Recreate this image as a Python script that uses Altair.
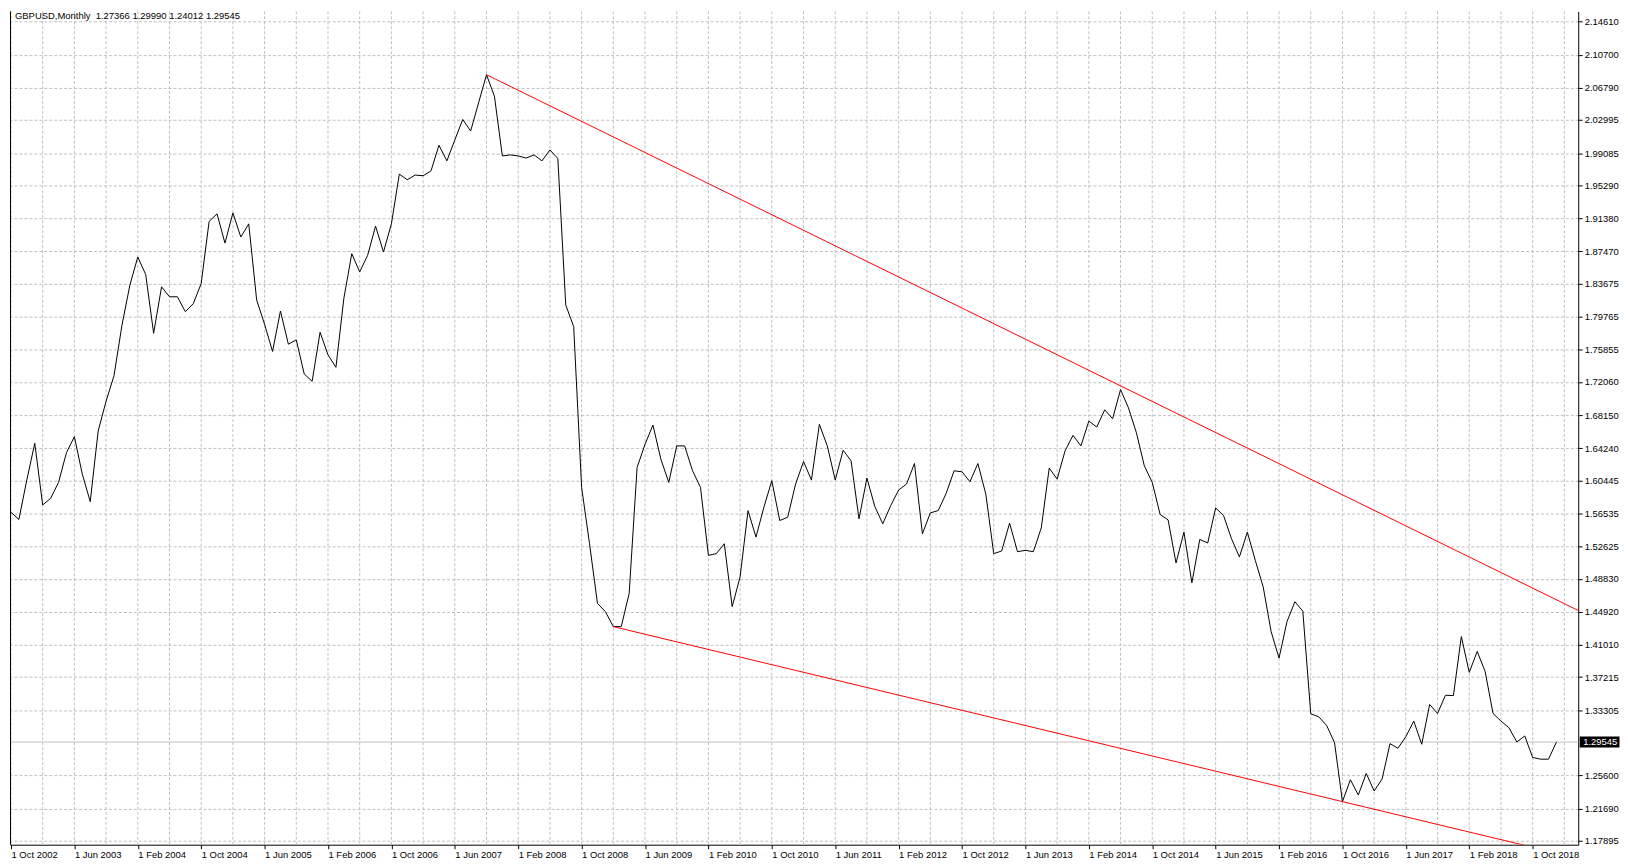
import json
import altair as alt
import pandas as pd

# ---------------- data ----------------
start_month = "2002-10-01"
closes = [
    # 2002 Oct-Dec
    1.5668, 1.5582, 1.6050,
    # 2003
    1.6482, 1.5754, 1.5832, 1.6020, 1.6372, 1.6560, 1.6118, 1.5793, 1.6627, 1.6979, 1.7280, 1.7874,
    # 2004
    1.8349, 1.8682, 1.8474, 1.7781, 1.8329, 1.8212, 1.8212, 1.8036, 1.8130, 1.8369, 1.9101, 1.9191,
    # 2005
    1.8846, 1.9202, 1.8917, 1.9073, 1.8173, 1.7887, 1.7566, 1.8044, 1.7652, 1.7703, 1.7300, 1.7214,
    # 2006
    1.7793, 1.7527, 1.7379, 1.8193, 1.8721, 1.8506, 1.8701, 1.9046, 1.8740, 1.9073, 1.9660, 1.9594,
    # 2007
    1.9649, 1.9641, 1.9699, 2.0001, 1.9817, 2.0063, 2.0306, 2.0169, 2.0502, 2.0834, 2.0580, 1.9875,
    # 2008
    1.9887, 1.9875, 1.9850, 1.9887, 1.9817, 1.9946, 1.9844, 1.8114, 1.7860, 1.5961, 1.5296, 1.4592,
    # 2009
    1.4494, 1.4317, 1.4317, 1.4709, 1.6196, 1.6470, 1.6697, 1.6294, 1.6020, 1.6451, 1.6451, 1.6157,
    # 2010
    1.5961, 1.5159, 1.5179, 1.5296, 1.4553, 1.4905, 1.5687, 1.5374, 1.5727, 1.6040, 1.5570, 1.5609,
    # 2011
    1.6000, 1.6267, 1.6048, 1.6705, 1.6451, 1.6048, 1.6400, 1.6275, 1.5590, 1.6071, 1.5734, 1.5531,
    # 2012
    1.5746, 1.5930, 1.6001, 1.6243, 1.5414, 1.5660, 1.5688, 1.5891, 1.6157, 1.6145, 1.6028, 1.6243,
    # 2013
    1.5883, 1.5179, 1.5210, 1.5539, 1.5202, 1.5218, 1.5202, 1.5484, 1.6189, 1.6059, 1.6392, 1.6576,
    # 2014
    1.6451, 1.6744, 1.6674, 1.6877, 1.6772, 1.7116, 1.6901, 1.6607, 1.6216, 1.6020, 1.5641, 1.5578,
    # 2015
    1.5069, 1.5433, 1.4834, 1.5347, 1.5304, 1.5719, 1.5629, 1.5355, 1.5140, 1.5433, 1.5100, 1.4787,
    # 2016
    1.4259, 1.3946, 1.4376, 1.4611, 1.4500, 1.3288, 1.3253, 1.3151, 1.2948, 1.2251, 1.2509, 1.2329,
    # 2017
    1.2584, 1.2376, 1.2517, 1.2936, 1.2881, 1.3018, 1.3202, 1.2928, 1.3398, 1.3292, 1.3507, 1.3503,
    # 2018
    1.4200, 1.3777, 1.4024, 1.3789, 1.3292, 1.3202, 1.3124, 1.2955, 1.3026, 1.2772, 1.2752, 1.2752,
    # 2019 Jan
    1.29545,
]

header_text = "GBPUSD,Monthly\u00a0 1.27366 1.29990 1.24012 1.29545"
last_price = 1.29545

y_ticks = [2.14610, 2.10700, 2.06790, 2.02995, 1.99085, 1.95290, 1.91380, 1.87470,
           1.83675, 1.79765, 1.75855, 1.72060, 1.68150, 1.64240, 1.60445, 1.56535,
           1.52625, 1.48830, 1.44920, 1.41010, 1.37215, 1.33305, 1.25600, 1.21690,
           1.17895]

x_tick_labels = ["1 Oct 2002", "1 Jun 2003", "1 Feb 2004", "1 Oct 2004", "1 Jun 2005",
                 "1 Feb 2006", "1 Oct 2006", "1 Jun 2007", "1 Feb 2008", "1 Oct 2008",
                 "1 Jun 2009", "1 Feb 2010", "1 Oct 2010", "1 Jun 2011", "1 Feb 2012",
                 "1 Oct 2012", "1 Jun 2013", "1 Feb 2014", "1 Oct 2014", "1 Jun 2015",
                 "1 Feb 2016", "1 Oct 2016", "1 Jun 2017", "1 Feb 2018", "1 Oct 2018"]
x_label_step = 8      # months between labelled ticks
x_grid_step = 4       # months between vertical grid lines

# trend lines: anchor bars (month index) and prices
upper_idx = [60, 140]
upper_val = [2.0834, 1.7160]
lower_idx = [76, 168]
lower_val = [1.4317, 1.2251]
trend_end_idx = 205

x_domain = [-0.125, 197.75]
y_domain = [1.17421, 2.15819]

W = 1577
H = 838

# ---------------- tables ----------------
n = len(closes)
months = pd.date_range(start_month, periods=n, freq="MS")
df = pd.DataFrame({"idx": list(range(n)), "close": closes,
                   "month": months.strftime("%b %Y")})


def extend(idx, val, end):
    slope = (val[1] - val[0]) / (idx[1] - idx[0])
    return [idx[0], end], [val[0], val[0] + slope * (end - idx[0])]


ui, uv = extend(upper_idx, upper_val, trend_end_idx)
li, lv = extend(lower_idx, lower_val, trend_end_idx)
trend = pd.DataFrame({"idx": ui + li, "val": uv + lv,
                      "line": ["upper", "upper", "lower", "lower"]})

grid_df = pd.DataFrame({"idx": list(range(0, int(x_domain[1]) + 1, x_grid_step))})
price_df = pd.DataFrame({"p": [last_price], "label": [f"{last_price:.5f}"]})
head_df = pd.DataFrame({"t": [header_text]})

FONT = "Liberation Sans"
FS = 9.5

xs = alt.Scale(domain=x_domain, nice=False, zero=False)
ys = alt.Scale(domain=y_domain, nice=False, zero=False)

label_expr = json.dumps(x_tick_labels) + f"[round(datum.value/{x_label_step})]"

x_axis = alt.Axis(values=list(range(0, x_label_step * len(x_tick_labels), x_label_step)),
                  labelExpr=label_expr, grid=False, domainColor="#000000",
                  tickColor="#000000", tickSize=4, labelAlign="left",
                  labelBaseline="top", labelPadding=1, labelOverlap=False,
                  labelFlush=False, title=None, labelFont=FONT, labelFontSize=FS,
                  labelColor="#000000", domainWidth=1)
y_axis = alt.Axis(orient="right", values=y_ticks, format=".5f", grid=True,
                  gridDash=[3, 2], gridColor="#c0c0c0", gridWidth=1,
                  domainColor="#000000", tickColor="#000000", tickSize=4,
                  labelPadding=2, labelOverlap=False, labelFlush=False, title=None,
                  labelFont=FONT, labelFontSize=FS, labelColor="#000000")

vgrid = alt.Chart(grid_df).mark_rule(color="#c0c0c0", strokeDash=[3, 2], strokeWidth=1).encode(
    x=alt.X("idx:Q", scale=xs, axis=x_axis)
)

price_line = alt.Chart(price_df).mark_rule(color="#c0c0c0", strokeWidth=1).encode(
    y=alt.Y("p:Q", scale=ys, axis=y_axis)
)

line = alt.Chart(df).mark_line(color="#000000", strokeWidth=1).encode(
    x=alt.X("idx:Q", scale=xs, axis=x_axis),
    y=alt.Y("close:Q", scale=ys, axis=y_axis),
)

trend_lines = alt.Chart(trend).mark_line(color="#ff0000", strokeWidth=1, clip=True).encode(
    x=alt.X("idx:Q", scale=xs, axis=x_axis),
    y=alt.Y("val:Q", scale=ys, axis=y_axis),
    detail="line:N",
)

left_border = alt.Chart(price_df).mark_rule(color="#000000", strokeWidth=1).encode(
    x=alt.value(0.5)
)

box_w = 40
box_path = "M-1,-0.28L1,-0.28L1,0.28L-1,0.28Z"
price_box = alt.Chart(price_df).mark_point(
    shape=box_path, filled=True, color="#000000", opacity=1, size=box_w * box_w, strokeWidth=0
).encode(x=alt.value(W + 1.5 + box_w / 2), y=alt.Y("p:Q", scale=ys, axis=y_axis))

price_text = alt.Chart(price_df).mark_text(
    align="left", baseline="middle", color="#ffffff", font=FONT, fontSize=FS
).encode(x=alt.value(W + 5), y=alt.Y("p:Q", scale=ys, axis=y_axis), text="label:N")

header = alt.Chart(head_df).mark_text(
    align="left", baseline="alphabetic", color="#000000", font=FONT, fontSize=FS
).encode(x=alt.value(5), y=alt.value(8), text="t:N")

chart = alt.layer(
    vgrid, price_line, line, trend_lines, left_border, price_box, price_text, header
).properties(
    width=W, height=H, padding={"left": 0, "top": 0, "right": 0, "bottom": 0},
    background="#ffffff"
).configure_view(stroke=None)

chart.save("out.html", embed_options={"renderer": "svg", "actions": False})
